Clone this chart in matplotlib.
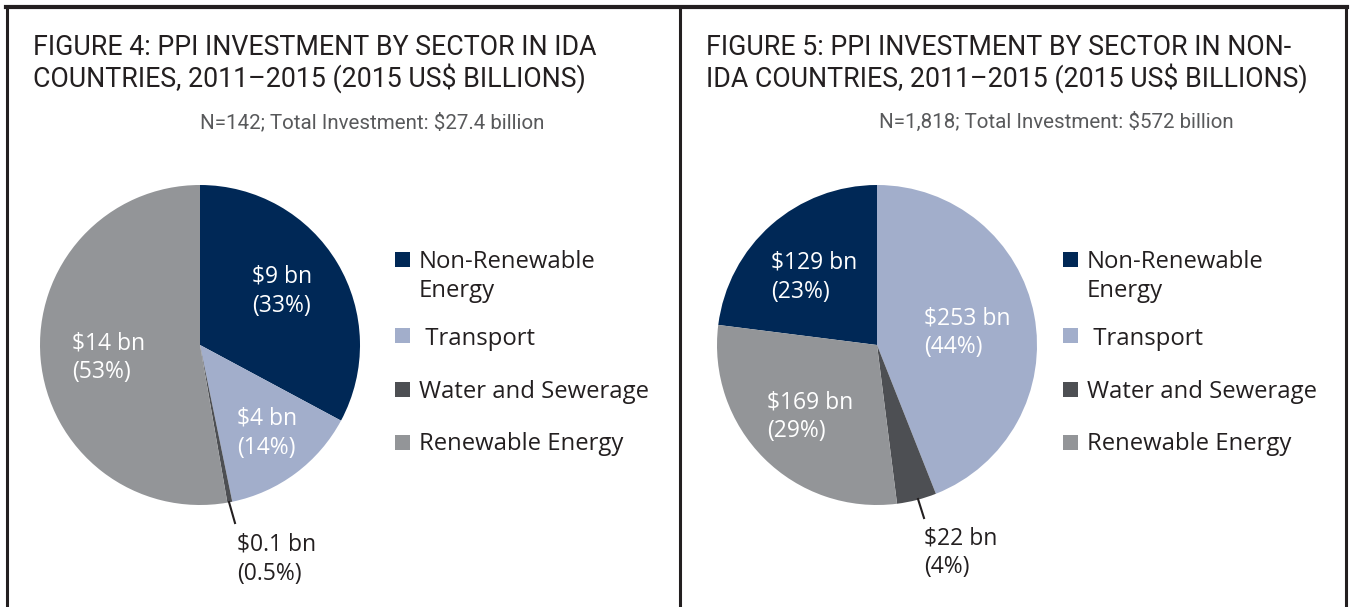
import matplotlib
matplotlib.use("Agg")
import matplotlib.pyplot as plt
from matplotlib.patches import Rectangle
from matplotlib.lines import Line2D

W, H = 1352, 607

sectors = ["Non-Renewable\nEnergy", " Transport", "Water and Sewerage", "Renewable Energy"]
colors = ["#002856", "#a2aecb", "#4d4f53", "#939598"]

# Figure 4 (IDA)
ida_values_bn = ["$9 bn", "$4 bn", "$0.1 bn", "$14 bn"]
ida_pct = [33, 14, 0.5, 53]
ida_pct_labels = ["(33%)", "(14%)", "(0.5%)", "(53%)"]
# Figure 5 (non-IDA)
nonida_values_bn = ["$129 bn", "$253 bn", "$22 bn", "$169 bn"]
nonida_pct = [23, 44, 4, 29]
nonida_pct_labels = ["(23%)", "(44%)", "(4%)", "(29%)"]

titles = [["FIGURE 4: PPI INVESTMENT BY SECTOR IN IDA",
           "COUNTRIES, 2011\u20132015 (2015 US$ BILLIONS)"],
          ["FIGURE 5: PPI INVESTMENT BY SECTOR IN NON-",
           "IDA COUNTRIES, 2011\u20132015 (2015 US$ BILLIONS)"]]
subtitles = ["N=142; Total Investment: $27.4 billion",
             "N=1,818; Total Investment: $572 billion"]

plt.rcParams['font.family'] = ['Open Sans', 'DejaVu Sans']
fig = plt.figure(figsize=(W / 100, H / 100), dpi=100)


def fx(x):
    return x / W


def fy(y):
    return 1 - y / H


TEXT = "#231f20"
SUB = "#58595b"

# frame
for xv in (7, 680, 1346):
    fig.add_artist(Line2D([fx(xv), fx(xv)], [fy(7), fy(607)], color="#231f20", lw=2.2))
fig.add_artist(Line2D([fx(6), fx(1347)], [fy(7), fy(7)], color="#231f20", lw=3))

panels = [
    dict(cx=200, values=ida_pct, start=90,
         bn=ida_values_bn, pl=ida_pct_labels,
         lab=[(252, 283), (237, 425), (237, 551), (72, 349)],
         white=[True, True, False, True], leader=((229, 502), (235, 523)),
         leg_sq=395, leg_tx=419, title_x=33, sub_cx=372),
    dict(cx=877, values=nonida_pct, start=90 + 0.23 * 360,
         bn=nonida_values_bn, pl=nonida_pct_labels,
         lab=[(771, 269), (924, 324), (924, 544), (767, 408)],
         white=[True, True, False, True], leader=((918, 499), (924, 518)),
         leg_sq=1063, leg_tx=1087, title_x=706, sub_cx=1056),
]

cy, R = 345, 160
for i, p in enumerate(panels):
    ax = fig.add_axes([fx(p["cx"] - R), fy(cy + R), 2 * R / W, 2 * R / H])
    ax.pie(p["values"], colors=colors, startangle=p["start"], counterclock=False,
           wedgeprops=dict(linewidth=0))
    ax.set_xlim(-1, 1)
    ax.set_ylim(-1, 1)
    ax.set_aspect("auto")
    ax.axis("off")

    for j, line in enumerate(titles[i]):
        fig.text(fx(p["title_x"]), fy(55 + 32 * j), line, ha="left", va="baseline",
                 fontsize=19.3, color=TEXT, family=['Roboto', 'DejaVu Sans'])
    fig.text(fx(p["sub_cx"]), fy(128), subtitles[i], ha="center", va="baseline",
             fontsize=14.8, color=SUB, family=['Roboto', 'DejaVu Sans'])

    for k in range(4):
        x, y = p["lab"][k]
        c = "white" if p["white"][k] else TEXT
        fig.text(fx(x), fy(y), p["bn"][k], ha="left", va="baseline",
                 fontsize=16.5, color=c)
        fig.text(fx(x), fy(y + 29), p["pl"][k], ha="left", va="baseline",
                 fontsize=16.5, color=c)
    (x1, y1), (x2, y2) = p["leader"]
    fig.add_artist(Line2D([fx(x1), fx(x2)], [fy(y1), fy(y2)], color=TEXT, lw=1.5))

    leg_base = [268, 345, 398, 450]
    sq_top = [252, 328, 382, 435]
    for k in range(4):
        fig.add_artist(Rectangle((fx(p["leg_sq"]), fy(sq_top[k] + 15)), 15 / W, 15 / H,
                                 facecolor=colors[k], edgecolor="none"))
        for j, line in enumerate(sectors[k].split("\n")):
            fig.text(fx(p["leg_tx"]), fy(leg_base[k] + 29 * j), line, ha="left",
                     va="baseline", fontsize=17.2, color=TEXT)

fig.savefig("out.png", dpi=100, facecolor="white")
